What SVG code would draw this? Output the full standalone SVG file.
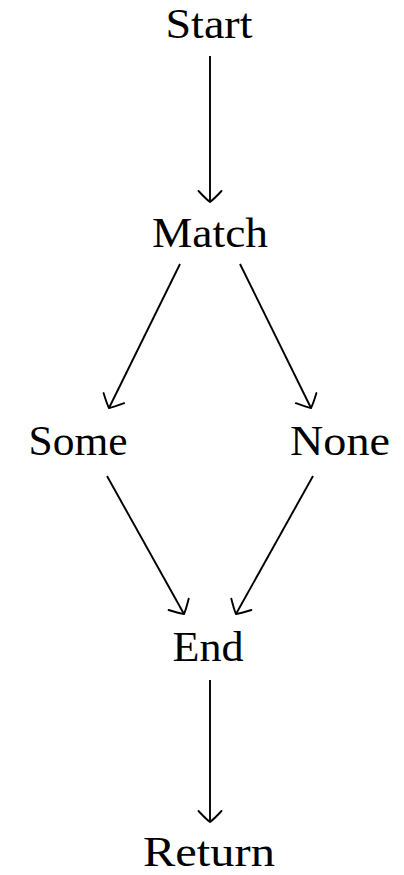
<svg xmlns="http://www.w3.org/2000/svg" width="404" height="875" viewBox="0 0 404 875">
<style>
.lbl{font-family:"Liberation Serif","DejaVu Serif",serif;font-size:42px;fill:#000;text-anchor:middle}
.edge{stroke:#000;stroke-width:1.9;fill:none;marker-end:url(#arr)}
</style>
<defs>
<marker id="arr" markerUnits="userSpaceOnUse" markerWidth="30" markerHeight="30" viewBox="-15 -15 30 30" refX="0" refY="0" orient="auto" overflow="visible">
<path d="M -11,-11.5 Q -2.5,-3.5 0,0 Q -2.5,3.5 -11,11.5" fill="none" stroke="#000" stroke-width="1.9" stroke-linecap="round"/>
</marker>
</defs>
<rect width="404" height="875" fill="#fff"/>
<g id="connectors">
<line class="edge" x1="210" y1="56" x2="210" y2="202"/>
<line class="edge" x1="180" y1="264" x2="109" y2="408"/>
<line class="edge" x1="240" y1="264" x2="311" y2="408"/>
<line class="edge" x1="107" y1="476" x2="184" y2="614"/>
<line class="edge" x1="313" y1="476" x2="236" y2="614"/>
<line class="edge" x1="210" y1="680" x2="210" y2="822"/>
</g>
<g id="start"><text class="lbl" x="209" y="38" textLength="87" lengthAdjust="spacingAndGlyphs">Start</text></g>
<g id="match"><text class="lbl" x="210" y="247" textLength="116" lengthAdjust="spacingAndGlyphs">Match</text></g>
<g id="some"><text class="lbl" x="78" y="455" textLength="99" lengthAdjust="spacingAndGlyphs">Some</text></g>
<g id="none"><text class="lbl" x="340" y="455" textLength="100" lengthAdjust="spacingAndGlyphs">None</text></g>
<g id="end"><text class="lbl" x="208" y="661" textLength="71" lengthAdjust="spacingAndGlyphs">End</text></g>
<g id="return"><text class="lbl" x="209" y="866" textLength="132" lengthAdjust="spacingAndGlyphs">Return</text></g>
</svg>
